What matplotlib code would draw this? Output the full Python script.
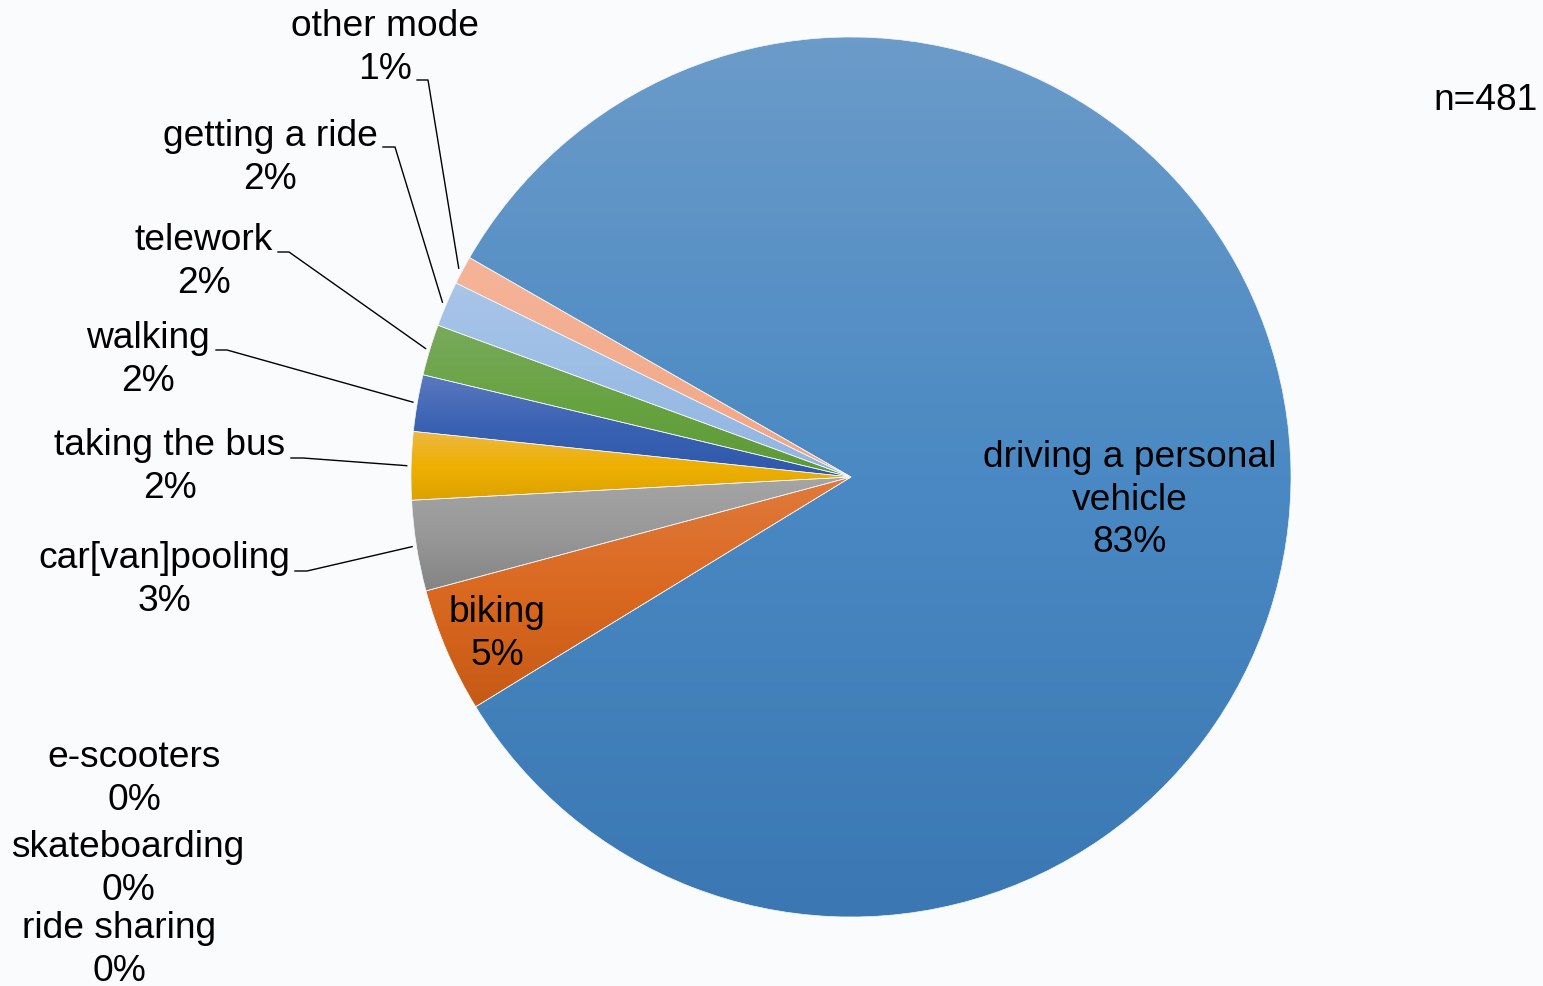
import numpy as np
import matplotlib.pyplot as plt
from matplotlib.colors import LinearSegmentedColormap

# survey answers, n=481
modes = ["driving a personal\nvehicle", "biking", "car[van]pooling", "taking the bus",
         "walking", "telework", "getting a ride", "other mode",
         "e-scooters", "skateboarding", "ride sharing"]
counts = [399, 22, 16, 12, 10, 9, 8, 5, 0, 0, 0]
n_total = 481

# gradient colours per slice (top, middle, bottom)
grad_colors = [
    ("#6b9bc9", "#4a89c3", "#3b78b3"),
    ("#e07a3c", "#da6820", "#c65a16"),
    ("#a5a5a5", "#989898", "#848484"),
    ("#ecb843", "#eeb000", "#dda200"),
    ("#5b79c0", "#3a62b3", "#2e58aa"),
    ("#79aa5c", "#68a342", "#5d9937"),
    ("#a9c5e8", "#9bbde5", "#92b5e1"),
    ("#f5b499", "#f3ad8f", "#f1a684"),
    ("#cccccc", "#cccccc", "#cccccc"),
    ("#cccccc", "#cccccc", "#cccccc"),
    ("#cccccc", "#cccccc", "#cccccc"),
]

W, H = 1543, 986
bg = "#fafbfd"
plt.rcParams['font.family'] = ['Liberation Sans', 'DejaVu Sans']

fig = plt.figure(figsize=(W / 100, H / 100), dpi=100, facecolor=bg)
ax = fig.add_axes([0, 0, 1, 1])
ax.set_facecolor(bg)

cx, cy, r = 851, H - 477, 440
wedges, _ = ax.pie(counts, startangle=150.1, counterclock=False,
                   center=(cx, cy), radius=r,
                   wedgeprops=dict(edgecolor="#f4f6fa", linewidth=0.5))

grad = np.linspace(0, 1, 256).reshape(-1, 1)
for w, c, cols in zip(wedges, counts, grad_colors):
    if c == 0:
        continue
    ext = w.get_path().get_extents()
    cmap = LinearSegmentedColormap.from_list("g", list(cols))
    im = ax.imshow(grad, cmap=cmap, extent=(ext.x0, ext.x1, ext.y0, ext.y1),
                   origin="upper", aspect="auto", zorder=1, interpolation="bicubic")
    im.set_clip_path(w)
    w.set_facecolor("none")
    w.set_zorder(2)

# label centres (pixels from top-left)
label_pos = [(1130, 500), (497, 634), (164, 580), (170, 467), (148, 360),
             (204, 262), (270, 158), (385, 48), (134, 779), (128, 869), (119, 950)]
# leader line start / elbow for the outside labels
leaders = {2: (295, 307, 571), 3: (291, 303, 458), 4: (216, 227, 350),
           5: (278, 289, 252), 6: (383, 395, 147), 7: (417, 428, 80)}

for i, (m, c) in enumerate(zip(modes, counts)):
    pct = round(100 * c / n_total)
    x, y = label_pos[i]
    ax.text(x, H - y, f"{m}\n{pct}%", ha="center", va="center", fontsize=26.7,
            linespacing=1.28, zorder=5)
    if i in leaders:
        x0, x1, ly = leaders[i]
        w = wedges[i]
        th = np.deg2rad((w.theta1 + w.theta2) / 2)
        ex, ey = cx + r * 1.01 * np.cos(th), cy + r * 1.01 * np.sin(th)
        ax.plot([x0, x1, ex], [H - ly, H - ly, ey], color="black", lw=1.0, zorder=4)

ax.text(1538, H - 100, f"n={n_total}", ha="right", va="center", fontsize=26.7)

ax.set_xlim(0, W)
ax.set_ylim(0, H)
ax.set_aspect("auto")
ax.axis("off")
fig.savefig("out.png", dpi=100, facecolor=bg)
